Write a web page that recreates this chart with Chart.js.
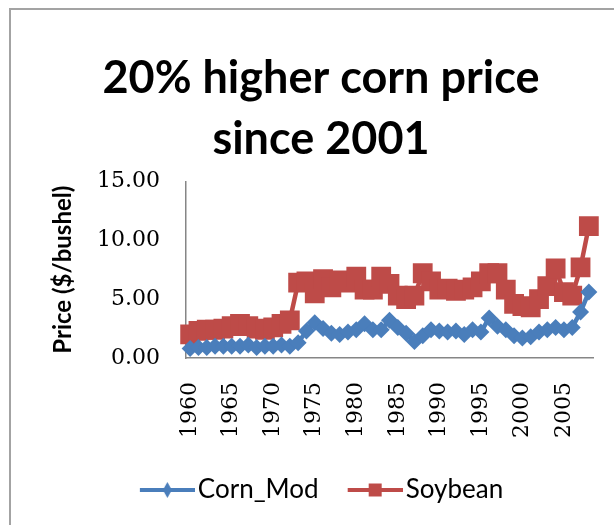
<!DOCTYPE html>
<html>
<head>
<meta charset="utf-8">
<script src="https://cdn.jsdelivr.net/npm/chart.js@4.4.1/dist/chart.umd.min.js"></script>
<style>
  html, body { margin: 0; padding: 0; background: #fff; }
  #wrap { width: 614px; height: 525px; }
</style>
</head>
<body>
<div id="wrap"><canvas id="chart" width="614" height="525"></canvas></div>
<script>
// Marketing years on the category axis
const years = [
  1960, 1961, 1962, 1963, 1964, 1965, 1966, 1967, 1968, 1969,
  1970, 1971, 1972, 1973, 1974, 1975, 1976, 1977, 1978, 1979,
  1980, 1981, 1982, 1983, 1984, 1985, 1986, 1987, 1988, 1989,
  1990, 1991, 1992, 1993, 1994, 1995, 1996, 1997, 1998, 1999,
  2000, 2001, 2002, 2003, 2004, 2005, 2006, 2007, 2008
];

// Corn price with the +20% adjustment from 2001 on ($/bushel)
const cornMod = [
  0.8, 0.9, 0.9, 1.0, 1.0, 1.0, 1.0, 1.1, 0.9, 1.0,
  1.0, 1.1, 1.0, 1.3, 2.3, 3.0, 2.5, 2.1, 2.0, 2.2,
  2.4, 2.9, 2.4, 2.4, 3.2, 2.6, 2.1, 1.4, 1.9, 2.4,
  2.3, 2.2, 2.3, 2.0, 2.4, 2.2, 3.4, 2.7, 2.4, 1.9,
  1.7, 1.8, 2.2, 2.4, 2.6, 2.4, 2.6, 3.9, 5.6
];

// Soybean price ($/bushel)
const soybean = [
  2.0, 2.3, 2.4, 2.4, 2.5, 2.7, 2.9, 2.7, 2.5, 2.4,
  2.6, 2.9, 3.2, 6.4, 6.5, 5.5, 6.7, 6.0, 6.6, 6.4,
  6.9, 5.8, 5.8, 6.9, 6.3, 5.3, 5.0, 5.3, 7.2, 6.5,
  5.8, 5.9, 5.7, 5.8, 6.0, 6.5, 7.2, 7.2, 5.8, 4.6,
  4.4, 4.3, 5.0, 6.1, 7.6, 5.6, 5.3, 7.7, 11.2
];

const yTickValues = [0, 5, 10, 15];
const titleLines = ['20% higher corn price', 'since 2001'];

const CORN_COLOR = '#4A7EBB';
const SOY_COLOR = '#BE4B48';

// Small line-with-marker swatch used as the legend symbol
function legendSwatch(color, shape) {
  const cv = document.createElement('canvas');
  cv.width = 66;
  cv.height = 26;
  const g = cv.getContext('2d');
  g.strokeStyle = color;
  g.lineWidth = 4;
  g.beginPath();
  g.moveTo(11, 13);
  g.lineTo(66, 13);
  g.stroke();
  g.fillStyle = color;
  g.beginPath();
  if (shape === 'diamond') {
    g.moveTo(38.5, 5);
    g.lineTo(43, 13);
    g.lineTo(38.5, 21);
    g.lineTo(34, 13);
    g.closePath();
  } else {
    g.rect(32, 6.5, 13, 13);
  }
  g.fill();
  return cv;
}

const swatches = [legendSwatch(CORN_COLOR, 'diamond'), legendSwatch(SOY_COLOR, 'square')];

// White page with the grey frame along the left and top edges
const chartFrame = {
  id: 'chartFrame',
  beforeDraw(chart) {
    const ctx = chart.ctx;
    ctx.save();
    ctx.fillStyle = '#ffffff';
    ctx.fillRect(0, 0, chart.width, chart.height);
    ctx.strokeStyle = '#a3a3a3';
    ctx.lineWidth = 2;
    ctx.beginPath();
    ctx.moveTo(10, chart.height + 2);
    ctx.lineTo(10, 9);
    ctx.lineTo(chart.width + 2, 9);
    ctx.stroke();
    ctx.restore();
  }
};

const axisBorder = { display: true, color: '#868686', width: 1.5 };

new Chart(document.getElementById('chart'), {
  type: 'line',
  data: {
    labels: years,
    datasets: [
      {
        label: 'Corn_Mod',
        data: cornMod,
        borderColor: CORN_COLOR,
        backgroundColor: CORN_COLOR,
        borderWidth: 4.5,
        pointStyle: 'rectRot',
        pointRadius: 8.5,
        pointHoverRadius: 8.5,
        pointBorderWidth: 0,
        pointBackgroundColor: CORN_COLOR,
        tension: 0
      },
      {
        label: 'Soybean',
        data: soybean,
        borderColor: SOY_COLOR,
        backgroundColor: SOY_COLOR,
        borderWidth: 4.5,
        pointStyle: 'rect',
        pointRadius: 14,
        pointHoverRadius: 14,
        pointBorderWidth: 0,
        pointBackgroundColor: SOY_COLOR,
        tension: 0
      }
    ]
  },
  options: {
    responsive: false,
    devicePixelRatio: 1,
    animation: false,
    events: [],
    layout: { padding: { left: 49, right: 21, top: 0, bottom: 12 } },
    plugins: {
      title: {
        display: true,
        text: titleLines,
        color: '#000',
        font: { family: 'Lato', weight: 'bold', size: 45, lineHeight: 1.36 },
        padding: { top: 48, bottom: 11 }
      },
      legend: {
        position: 'bottom',
        labels: {
          usePointStyle: true,
          pointStyleWidth: 46,
          padding: 28,
          color: '#000',
          font: { family: 'Lato', size: 26 },
          generateLabels(chart) {
            const items = Chart.defaults.plugins.legend.labels.generateLabels(chart);
            items.forEach((it, i) => { it.pointStyle = swatches[i]; });
            return items;
          }
        }
      },
      tooltip: { enabled: false }
    },
    scales: {
      x: {
        type: 'category',
        offset: true,
        grid: { display: false, drawTicks: false },
        border: axisBorder,
        ticks: {
          autoSkip: false,
          minRotation: 90,
          maxRotation: 90,
          padding: 24,
          color: '#000',
          font: { family: 'DejaVu Serif', size: 22 },
          callback(value, index) {
            const y = years[index];
            return y % 5 === 0 ? String(y) : '';
          }
        },
        afterFit(scale) {
          scale.height = 91;
          scale.paddingLeft = 0;
          scale.paddingRight = 0;
        }
      },
      y: {
        min: 0,
        max: 15,
        grid: { display: false, drawTicks: false },
        border: axisBorder,
        afterBuildTicks(scale) {
          scale.ticks = yTickValues.map(v => ({ value: v }));
        },
        ticks: {
          padding: 26,
          color: '#000',
          font: { family: 'DejaVu Serif', size: 22 },
          callback: v => Number(v).toFixed(2)
        },
        title: {
          display: true,
          text: 'Price ($/bushel)',
          color: '#000',
          font: { family: 'Lato', weight: 'bold', size: 24 },
          padding: 0
        },
        afterFit(scale) {
          scale.width = 137;
          scale.paddingTop = 0;
          scale.paddingBottom = 0;
        }
      }
    }
  },
  plugins: [chartFrame]
});
</script>
</body>
</html>
